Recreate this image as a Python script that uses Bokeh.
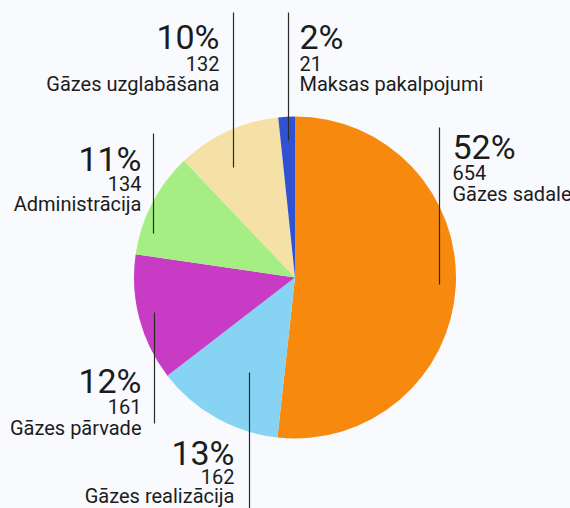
import math
from bokeh.plotting import figure
from bokeh.models import Range1d, ColumnDataSource
from bokeh.core.properties import value
from bokeh.embed import file_html
from bokeh.resources import INLINE

# ---- data ----
categories = ["Gāzes sadale", "Gāzes realizācija", "Gāzes pārvade",
              "Administrācija", "Gāzes uzglabāšana", "Maksas pakalpojumi"]
amounts = [654, 162, 161, 134, 132, 21]
pct_labels = ["52%", "13%", "12%", "11%", "10%", "2%"]
colors = ["#F7890F", "#86D3F3", "#C83BC4", "#A4EE84", "#F5E0A6", "#2F52D3"]

# ---- layout (screen pixel coordinates, y measured downward from page top) ----
W, H = 570, 508
def Y(sy):
    return H - sy

cx, cy, r = 294.5, 277, 161

total = sum(amounts)
starts, ends = [], []
cum = 0
for a in amounts:
    s = math.pi / 2 - 2 * math.pi * (cum + a) / total
    e = math.pi / 2 - 2 * math.pi * cum / total
    starts.append(s)
    ends.append(e)
    cum += a

p = figure(width=W, height=H, output_backend="svg", toolbar_location=None,
           x_range=Range1d(0, W), y_range=Range1d(0, H),
           min_border=0)
p.axis.visible = False
p.grid.visible = False
p.outline_line_color = None
p.background_fill_color = "#F8FAFD"
p.border_fill_color = "#F8FAFD"

src = ColumnDataSource(dict(x=[cx] * len(amounts), y=[Y(cy)] * len(amounts),
                            start=starts, end=ends, color=colors))
p.wedge(x="x", y="y", radius=r, start_angle="start", end_angle="end",
        direction="anticlock", fill_color="color", line_color=None, source=src)

# label placement: (anchor x, pct baseline y, num baseline, label baseline, align, leader x, y0, y1)
place = {
    "Gāzes sadale":       (452, 157, 179, 200, "left",  439, 127, 284),
    "Gāzes realizācija":  (234, 463, 483, 502, "right", 249, 372, 508),
    "Gāzes pārvade":      (141, 391, 413, 434, "right", 154, 312, 423),
    "Administrācija":     (141, 169, 190, 210, "right", 153, 133, 233),
    "Gāzes uzglabāšana":  (219, 47, 70, 90,    "right", 233, 12, 167),
    "Maksas pakalpojumi": (299, 47, 70, 90,    "left",  288, 12, 140),
}
# renderer places the alphabetic baseline slightly lower; compensate
off_pct, off_num, off_lab = 11, 7, 7

font = value("Roboto")
tc = "#1c1c1c"
for cat, amt, pct in zip(categories, amounts, pct_labels):
    ax, b1, b2, b3, al, lx, ly0, ly1 = place[cat]
    p.segment(x0=[lx], y0=[Y(ly0)], x1=[lx], y1=[Y(ly1)],
              line_color="#2a2a2a", line_width=1.2)
    p.text(x=[ax], y=[Y(b1 - off_pct)], text=[pct], text_font=font, text_font_size="34px",
           text_align=al, text_baseline="alphabetic", text_color=tc)
    p.text(x=[ax], y=[Y(b2 - off_num)], text=[str(amt)], text_font=font,
           text_font_size="20px", text_align=al, text_baseline="alphabetic", text_color=tc)
    p.text(x=[ax], y=[Y(b3 - off_lab)], text=[cat], text_font=font,
           text_font_size="20px", text_align=al, text_baseline="alphabetic", text_color=tc)

open("out.html", "w").write(file_html(p, INLINE))
